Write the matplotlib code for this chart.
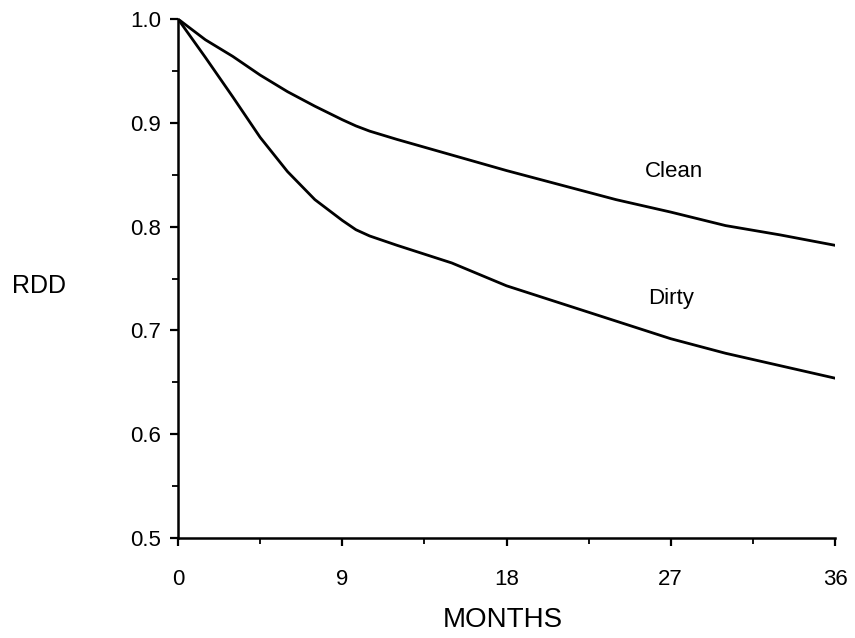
import numpy as np
import matplotlib
matplotlib.use("Agg")
import matplotlib.pyplot as plt
from matplotlib.ticker import MultipleLocator, FixedLocator

plt.rcParams['font.family'] = ['Liberation Sans', 'DejaVu Sans']

# values
months = [0, 1.5, 3, 4.5, 6, 7.5, 9, 9.75, 10.5, 12, 15, 18, 21, 24, 27, 30, 33, 36]
clean = [1.0, 0.980, 0.964, 0.946, 0.930, 0.916, 0.903, 0.897, 0.892, 0.884, 0.869,
         0.854, 0.840, 0.826, 0.814, 0.801, 0.792, 0.782]
dirty = [1.0, 0.963, 0.925, 0.886, 0.853, 0.826, 0.806, 0.797, 0.791, 0.782, 0.765,
         0.743, 0.726, 0.709, 0.692, 0.678, 0.666, 0.654]

x_ticks = [0, 9, 18, 27, 36]
y_ticks = [0.5, 0.6, 0.7, 0.8, 0.9, 1.0]

fig = plt.figure(figsize=(8.55, 6.38), dpi=100)
ax = fig.add_axes([0.2082, 0.1567, 0.7684, 0.8135])

ax.plot(months, clean, color='black', lw=2.0)
ax.plot(months, dirty, color='black', lw=2.0)

ax.set_xlim(0, 36)
ax.set_ylim(0.5, 1.0)
ax.xaxis.set_major_locator(FixedLocator(x_ticks))
ax.xaxis.set_minor_locator(MultipleLocator(4.5))
ax.yaxis.set_major_locator(FixedLocator(y_ticks))
ax.yaxis.set_minor_locator(MultipleLocator(0.05))
ax.set_yticklabels([f'{v:.1f}' for v in y_ticks])

for s in ['top', 'right']:
    ax.spines[s].set_visible(False)
for s in ['left', 'bottom']:
    ax.spines[s].set_linewidth(1.8)

ax.tick_params(axis='x', which='major', direction='out', length=6, width=1.6,
               pad=16, labelsize=16)
ax.tick_params(axis='x', which='minor', direction='out', length=4, width=1.3)
ax.tick_params(axis='y', which='major', direction='out', length=6, width=1.6,
               pad=6, labelsize=16)
ax.tick_params(axis='y', which='minor', direction='out', length=4, width=1.3)

ax.text(27.2, 0.853, 'Clean', fontsize=16, ha='center', va='center')
ax.text(27.0, 0.731, 'Dirty', fontsize=16, ha='center', va='center')

fig.text(503 / 855, 1 - 620 / 638, 'MONTHS', fontsize=20, ha='center', va='center')
fig.text(39 / 855, 1 - 286 / 638, 'RDD', fontsize=18, ha='center', va='center')

fig.savefig('out.png', dpi=100)
